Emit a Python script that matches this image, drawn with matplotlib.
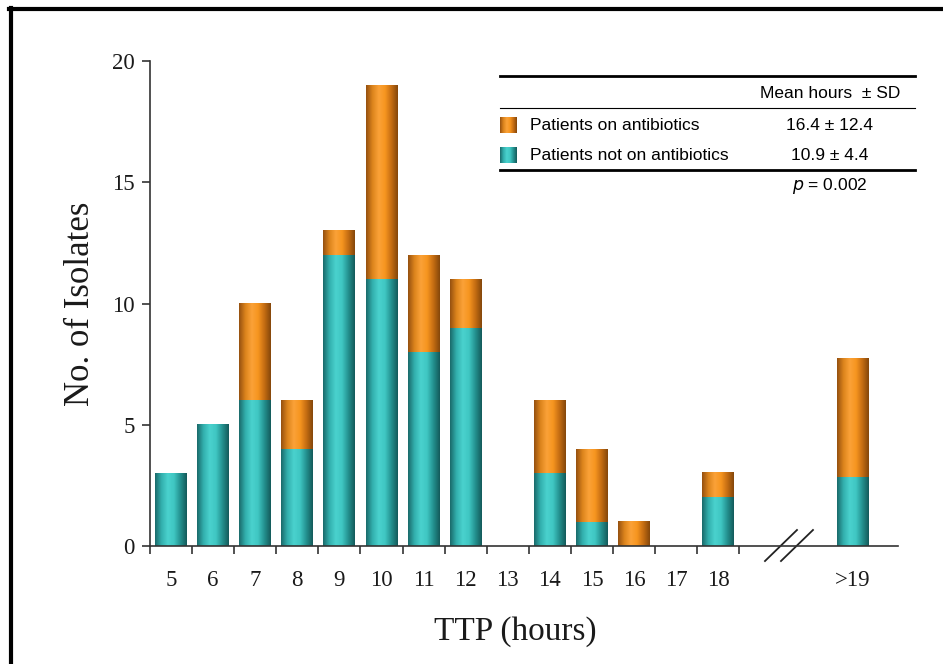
import numpy as np
import matplotlib
matplotlib.use("Agg")
import matplotlib.pyplot as plt
from matplotlib.colors import LinearSegmentedColormap
from matplotlib.lines import Line2D

# data
categorias = ['5', '6', '7', '8', '9', '10', '11', '12', '13', '14', '15', '16', '17', '18', '>19']
sin_antib = [3, 5, 6, 4, 12, 11, 8, 9, 0, 3, 1, 0, 0, 2, 2.85]
con_antib = [0, 0, 4, 2, 1, 8, 4, 2, 0, 3, 3, 1, 0, 1, 4.9]

leyenda = ['Patients on antibiotics', 'Patients not on antibiotics']
medias = ['16.4 \u00b1 12.4', '10.9 \u00b1 4.4']

W, H = 943, 664
fig = plt.figure(figsize=(W / 100, H / 100), dpi=100)

def px(x, y):
    return x / W, 1 - y / H

ax = fig.add_axes([150 / W, (H - 546) / H, 748 / W, 485 / H])

pos = np.append(np.arange(14), 16.2)
ancho = 0.76

teal = LinearSegmentedColormap.from_list('teal', ['#1a6a6a', '#32afad', '#4ad2ce', '#3fc6c2', '#23908e', '#145a5a'])
naranja = LinearSegmentedColormap.from_list('nar', ['#955010', '#dc841c', '#fba238', '#f6951f', '#c46c12', '#84470b'])
grad = np.linspace(0, 1, 128).reshape(1, -1)

def barra(x, y0, y1, cmap):
    if y1 - y0 <= 0:
        return
    ax.imshow(grad, extent=[x - ancho / 2, x + ancho / 2, y0, y1], cmap=cmap,
              aspect='auto', zorder=2, interpolation='bilinear')

for x, a, b in zip(pos, sin_antib, con_antib):
    barra(x, 0, a, teal)
    barra(x, a, a + b, naranja)

ax.set_xlim(-0.5, 17.27)
ax.set_ylim(0, 20)

for s in ['top', 'right']:
    ax.spines[s].set_visible(False)
for s in ['left', 'bottom']:
    ax.spines[s].set_linewidth(1.2)
    ax.spines[s].set_color('#333333')

ax.set_yticks([0, 5, 10, 15, 20])
ax.tick_params(axis='y', direction='out', length=6, width=1.2, color='#333333', pad=5,
               labelsize=16.5)
ax.set_xticks(np.arange(-0.5, 14, 1))
ax.set_xticklabels([])
ax.set_xticks(pos, minor=True)
ax.set_xticklabels(categorias, minor=True)
ax.tick_params(axis='x', which='major', direction='out', length=6, width=1.2, color='#333333')
ax.tick_params(axis='x', which='minor', length=0, pad=17, labelsize=16.5)
for lab in ax.get_xticklabels(minor=True) + ax.get_yticklabels():
    lab.set_fontfamily('Liberation Serif')
    lab.set_color('#1a1a1a')

ax.set_ylabel('No. of Isolates', fontsize=25, family='Liberation Serif', labelpad=11, color='#1a1a1a')
ax.text(0.488, -0.177, 'TTP (hours)', transform=ax.transAxes, ha='center', va='center',
        fontsize=24, family='Liberation Serif', color='#1a1a1a')

# break marks on the x axis
for dx in [0, 0.38]:
    ax.add_line(Line2D([14.11 + dx, 14.87 + dx], [-0.62, 0.66], color='#222222', lw=1.3,
                       clip_on=False))

# table/legend
def linea(y, lw):
    x0, y0 = px(500, y)
    x1, _ = px(915, y)
    fig.add_artist(Line2D([x0, x1], [y0, y0], color='black', lw=lw))

linea(76, 2.0)
linea(108, 0.8)
linea(170, 2.0)

fs = 12.5
fig.text(*px(830, 93), 'Mean hours  \u00b1 SD', ha='center', va='center', fontsize=fs, family='Liberation Sans')
for i, (txt, m, cmap) in enumerate(zip(leyenda, medias, [naranja, teal])):
    y = 125 + 30 * i
    cax = fig.add_axes([px(500, 0)[0], px(0, y + 8)[1], 16 / W, 16 / H])
    cax.imshow(grad, cmap=cmap, aspect='auto')
    cax.set_axis_off()
    fig.text(*px(530, y), txt, ha='left', va='center', fontsize=fs, family='Liberation Sans')
    fig.text(*px(830, y), m, ha='center', va='center', fontsize=fs, family='Liberation Sans')
fig.text(*px(830, 186), '$p$ = 0.002', ha='center', va='center', fontsize=fs, family='Liberation Sans')

# frame around the figure (left and top)
fig.add_artist(Line2D([px(11, 0)[0]] * 2, [px(0, 8)[1], 0], color='black', lw=3))
fig.add_artist(Line2D([px(9, 0)[0], 1], [px(0, 9)[1]] * 2, color='black', lw=3))

fig.savefig('out.png', dpi=100)
